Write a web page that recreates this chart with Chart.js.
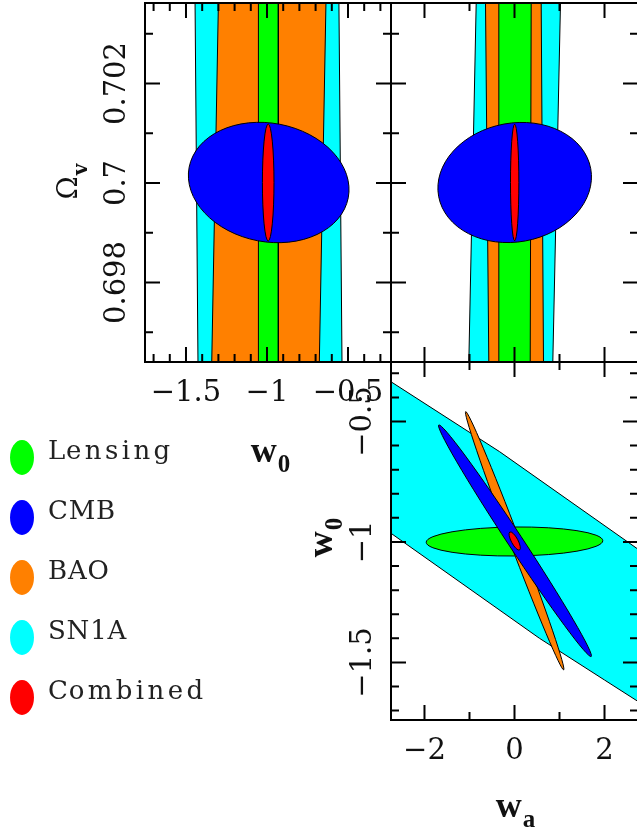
<!DOCTYPE html>
<html>
<head>
<meta charset="utf-8">
<script src="https://cdn.jsdelivr.net/npm/chart.js@4.4.1/dist/chart.umd.min.js"></script>
<style>
  html, body { margin: 0; padding: 0; overflow: hidden; background: #fff; width: 637px; height: 837px; }
  canvas { position: absolute; left: 0; top: 0; }
  .swatch { position: absolute; left: 10px; width: 24px; height: 35px; border-radius: 50%; }
  .label { position: absolute; left: 48px; font-family: 'DejaVu Serif', serif; font-size: 26px; line-height: 30px;
           letter-spacing: 0.8px; color: #222; white-space: nowrap; }
  .label .lc { letter-spacing: 3.4px; }
</style>
</head>
<body>
<canvas id="tl" width="640" height="837"></canvas>
<canvas id="tr" width="640" height="837"></canvas>
<canvas id="br" width="640" height="837"></canvas>
<div id="legend"></div>
<script>
// legend
const legendLabels = ['Lensing', 'CMB', 'BAO', 'SN1A', 'Combined'];
const legendColors = ['#00ff00', '#0000ff', '#ff8000', '#00ffff', '#ff0000'];

// ---- panel 1: w0 (x) vs Omega_v (y) ----
// band corners [w0, Omega_v]
const sn1aW0Om = [[-1.426, 0.69640], [-1.444, 0.70362], [-0.556, 0.70362], [-0.537, 0.69640], [-1.426, 0.69640]];
const baoW0Om = [[-1.341, 0.69640], [-1.300, 0.70362], [-0.636, 0.70362], [-0.677, 0.69640], [-1.341, 0.69640]];
const lensW0Om = [[-1.053, 0.69640], [-1.053, 0.70362], [-0.930, 0.70362], [-0.930, 0.69640], [-1.053, 0.69640]];
// ellipses: [centre x, centre y, axis1 dx, axis1 dy, axis2 dx, axis2 dy]
const cmbW0Om = [-0.9895, 0.70001, 0.491, -0.000308, -0.0691, -0.00117];
const combW0Om = [-0.9926, 0.70001, 0.0358, 0, 0, 0.001176];

// ---- panel 2: wa (x) vs Omega_v (y) ----
const sn1aWaOm = [[-1.015, 0.69640], [-0.851, 0.70362], [1.022, 0.70362], [0.851, 0.69640], [-1.015, 0.69640]];
const baoWaOm = [[-0.571, 0.69640], [-0.644, 0.70362], [0.593, 0.70362], [0.644, 0.69640], [-0.571, 0.69640]];
const lensWaOm = [[-0.362, 0.69640], [-0.348, 0.70362], [0.371, 0.70362], [0.349, 0.69640], [-0.362, 0.69640]];
const cmbWaOm = [0.004, 0.70001, 1.690, 0.000278, 0.2362, -0.001175];
const combWaOm = [0.004, 0.70001, 0.093, 0, 0, 0.001172];

// ---- panel 3: wa (x) vs w0 (y) ----
const sn1aWaW0 = [[-2.744, -0.335], [-0.333, -0.625], [2.744, -1.030], [2.744, -1.662], [2.0, -1.573],
                  [0.556, -1.400], [-2.744, -0.964], [-2.744, -0.335]];
const lensWaW0 = [0.0, -0.998, 1.962, 0.0033, 0, -0.0602];
const baoWaW0 = [0.004, -0.995, 1.089, -0.536, 0.1038, 0.00736];
const cmbWaW0 = [0.011, -0.995, 1.693, -0.4805, 0.1374, 0.01689];
const combWaW0 = [0.004, -0.996, 0.1078, -0.0373, 0.0644, 0.00651];

// ticks and labels
const w0Major = [-1.5, -1, -0.5];
const w0Minor = [-1.7, -1.6, -1.4, -1.3, -1.2, -1.1, -0.9, -0.8, -0.7, -0.6, -0.4, -0.3];
const w0Labels = ['\u22121.5', '\u22121', '\u22120.5'];
const omMajor = [0.698, 0.7, 0.702];
const omMinor = [0.697, 0.699, 0.701, 0.703];
const omLabels = ['0.698', '0.7', '0.702'];
const waMajor = [-2, 0, 2];
const waMinor = [-1, 1];
const waLabels = ['\u22122', '0', '2'];

const COL = { lens: '#00ff00', cmb: '#0000ff', bao: '#ff8000', sn1a: '#00ffff', comb: '#ff0000' };
const TICK_FONT = '29px "DejaVu Serif"';

function band(points, color, order) {
  return {
    data: points.map(p => ({ x: p[0], y: p[1] })),
    showLine: true, fill: 'shape', tension: 0,
    backgroundColor: color, borderColor: '#000', borderWidth: 1,
    pointRadius: 0, order: order
  };
}

function ell(e, color) {
  return { c: [e[0], e[1]], a: [e[2], e[3]], b: [e[4], e[5]], color: color };
}

// filled contour ellipses, placed through the chart scales
const contourEllipses = {
  id: 'contourEllipses',
  afterDatasetsDraw(chart, args, opts) {
    const { ctx, chartArea: a, scales: { x, y } } = chart;
    ctx.save();
    ctx.beginPath();
    ctx.rect(a.left, a.top, a.right - a.left, a.bottom - a.top);
    ctx.clip();
    for (const e of opts.items || []) {
      const cx = x.getPixelForValue(e.c[0]), cy = y.getPixelForValue(e.c[1]);
      const ux = x.getPixelForValue(e.c[0] + e.a[0]) - cx, uy = y.getPixelForValue(e.c[1] + e.a[1]) - cy;
      const vx = x.getPixelForValue(e.c[0] + e.b[0]) - cx, vy = y.getPixelForValue(e.c[1] + e.b[1]) - cy;
      ctx.save();
      ctx.transform(ux, uy, vx, vy, cx, cy);
      ctx.beginPath();
      ctx.arc(0, 0, 1, 0, 2 * Math.PI);
      ctx.restore();
      ctx.fillStyle = e.color;
      ctx.fill();
      ctx.lineWidth = 1;
      ctx.strokeStyle = '#000';
      ctx.stroke();
    }
    ctx.restore();
  }
};

function drawSubText(ctx, main, sub, mainFont, subFont, drop) {
  ctx.font = mainFont;
  const w1 = ctx.measureText(main).width;
  ctx.font = subFont;
  const w2 = ctx.measureText(sub).width;
  const x0 = -(w1 + w2) / 2;
  ctx.textAlign = 'left';
  ctx.textBaseline = 'alphabetic';
  ctx.font = mainFont;
  ctx.fillText(main, x0, 0);
  ctx.font = subFont;
  ctx.fillText(sub, x0 + w1 + 1, drop);
}

// frame, inward ticks on four sides, labels and titles
const panelAxes = {
  id: 'panelAxes',
  afterDraw(chart, args, o) {
    const { ctx, chartArea: a, scales: { x, y } } = chart;
    ctx.save();
    ctx.strokeStyle = '#000';
    ctx.fillStyle = '#000';
    ctx.lineWidth = 2;
    ctx.strokeRect(a.left, a.top, a.right - a.left, a.bottom - a.top);
    const xt = [[o.xMajor, 15], [o.xMinor, 8]];
    const yt = [[o.yMajor, 15], [o.yMinor, 8]];
    ctx.beginPath();
    for (const [vals, len] of xt) {
      for (const v of vals) {
        const px = x.getPixelForValue(v);
        ctx.moveTo(px, a.bottom); ctx.lineTo(px, a.bottom - len);
        ctx.moveTo(px, a.top); ctx.lineTo(px, a.top + len);
      }
    }
    for (const [vals, len] of yt) {
      for (const v of vals) {
        const py = y.getPixelForValue(v);
        ctx.moveTo(a.left, py); ctx.lineTo(a.left + len, py);
        ctx.moveTo(a.right, py); ctx.lineTo(a.right - len, py);
      }
    }
    ctx.stroke();

    ctx.font = TICK_FONT;
    ctx.fillStyle = '#111';
    if (o.xLabels) {
      ctx.textAlign = 'center';
      ctx.textBaseline = 'alphabetic';
      o.xMajor.forEach((v, i) => ctx.fillText(o.xLabels[i], x.getPixelForValue(v), a.bottom + 39));
    }
    if (o.yLabels) {
      o.yMajor.forEach((v, i) => {
        ctx.save();
        ctx.translate(a.left - 20, y.getPixelForValue(v));
        ctx.rotate(-Math.PI / 2);
        ctx.textAlign = 'center';
        ctx.textBaseline = 'alphabetic';
        ctx.fillText(o.yLabels[i], 0, 0);
        ctx.restore();
      });
    }
    if (o.xTitle) {
      ctx.save();
      ctx.translate(o.xTitle.at[0], o.xTitle.at[1]);
      drawSubText(ctx, o.xTitle.main, o.xTitle.sub, o.xTitle.font, o.xTitle.subFont, 10);
      ctx.restore();
    }
    if (o.yTitle) {
      ctx.save();
      ctx.translate(o.yTitle.at[0], o.yTitle.at[1]);
      ctx.rotate(-Math.PI / 2);
      drawSubText(ctx, o.yTitle.main, o.yTitle.sub, o.yTitle.font, o.yTitle.subFont, 10);
      ctx.restore();
    }
    ctx.restore();
  }
};

function makePanel(id, pad, xr, yr, datasets, ellipses, axes) {
  return new Chart(document.getElementById(id), {
    type: 'scatter',
    data: { datasets: datasets },
    options: {
      responsive: false,
      animation: false,
      events: [],
      layout: { padding: pad },
      scales: {
        x: { type: 'linear', display: false, min: xr[0], max: xr[1] },
        y: { type: 'linear', display: false, min: yr[0], max: yr[1] }
      },
      plugins: {
        legend: { display: false },
        tooltip: { enabled: false },
        contourEllipses: { items: ellipses },
        panelAxes: axes
      }
    },
    plugins: [contourEllipses, panelAxes]
  });
}

const TITLE_FONT = 'bold 36px "Liberation Serif"';
const SUB_FONT = 'bold 25px "Liberation Serif"';

// top left: w0 vs Omega_v
makePanel('tl', { left: 145, right: 249, top: 3, bottom: 475 }, [-1.753, -0.2346], [0.696402, 0.703618],
  [band(lensW0Om, COL.lens, 1), band(baoW0Om, COL.bao, 2), band(sn1aW0Om, COL.sn1a, 3)],
  [ell(cmbW0Om, COL.cmb), ell(combW0Om, COL.comb)],
  {
    xMajor: w0Major, xMinor: w0Minor, yMajor: omMajor, yMinor: omMinor,
    xLabels: w0Labels, yLabels: omLabels,
    xTitle: { main: 'w', sub: '0', at: [270, 462], font: TITLE_FONT, subFont: SUB_FONT },
    yTitle: { main: '\u03a9', sub: 'v', at: [77, 182], font: '28px "DejaVu Serif"', subFont: 'bold 20px "DejaVu Serif"' }
  });

// top right: wa vs Omega_v
makePanel('tr', { left: 391, right: 2, top: 3, bottom: 475 }, [-2.744, 2.744], [0.696402, 0.703618],
  [band(lensWaOm, COL.lens, 1), band(baoWaOm, COL.bao, 2), band(sn1aWaOm, COL.sn1a, 3)],
  [ell(cmbWaOm, COL.cmb), ell(combWaOm, COL.comb)],
  { xMajor: waMajor, xMinor: waMinor, yMajor: omMajor, yMinor: omMinor });

// bottom right: wa vs w0
makePanel('br', { left: 391, right: 2, top: 362, bottom: 117 }, [-2.744, 2.744], [-1.739, -0.253],
  [band(sn1aWaW0, COL.sn1a, 1)],
  [ell(lensWaW0, COL.lens), ell(baoWaW0, COL.bao), ell(cmbWaW0, COL.cmb), ell(combWaW0, COL.comb)],
  {
    xMajor: waMajor, xMinor: waMinor, yMajor: w0Major, yMinor: w0Minor,
    xLabels: waLabels, yLabels: w0Labels,
    xTitle: { main: 'w', sub: 'a', at: [515, 817], font: TITLE_FONT, subFont: SUB_FONT },
    yTitle: { main: 'w', sub: '0', at: [332, 538], font: TITLE_FONT, subFont: SUB_FONT }
  });

// legend (lower-case runs get wider spacing, like the original font)
const legend = document.getElementById('legend');
legendLabels.forEach((label, i) => {
  const cy = 457 + 60 * i;
  const sw = document.createElement('div');
  sw.className = 'swatch';
  sw.style.top = (cy - 17.5) + 'px';
  sw.style.background = legendColors[i];
  legend.appendChild(sw);
  const tx = document.createElement('div');
  tx.className = 'label';
  tx.style.top = (cy + 2 - 24) + 'px';
  tx.innerHTML = label.replace(/([a-z]+)/g, '<span class="lc">$1</span>');
  legend.appendChild(tx);
});
</script>
</body>
</html>
